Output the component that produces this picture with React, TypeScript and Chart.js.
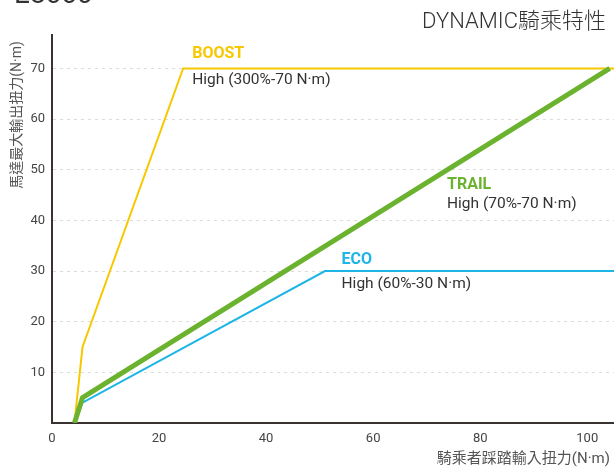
import React, { useEffect, useRef } from "react";
import { Chart, registerables } from "chart.js";

Chart.register(...registerables);

const boostX = [4.2, 5.7, 24.5, 105];
const boostY = [0, 15, 70, 70];
const trailX = [4.2, 5.7, 104.2];
const trailY = [0, 5, 70];
const ecoX = [4.2, 5.7, 51, 105];
const ecoY = [0, 4, 30, 30];
const xTicks = [0, 20, 40, 60, 80, 100];
const yTicks = [10, 20, 30, 40, 50, 60, 70];

const TITLE = "DYNAMIC騎乘特性";
const TOP_CUT = "E8000";
const Y_TITLE = "馬達最大輸出扭力(N·m)";
const X_TITLE = "騎乘者踩踏輸入扭力(N·m)";
const labels = [
  { name: "BOOST", desc: "High (300%-70 N·m)", x: 26.2, yName: 54, yDesc: 80, color: "#f7c800" },
  { name: "TRAIL", desc: "High (70%-70 N·m)", x: 73.8, yName: 185, yDesc: 204, color: "#6bb32e" },
  { name: "ECO", desc: "High (60%-30 N·m)", x: 54.1, yName: 260, yDesc: 284, color: "#1db4e6" },
];

const FONT = "Roboto, 'Noto Sans CJK TC', sans-serif";

const toPts = (xs: number[], ys: number[]) => xs.map((x, i) => ({ x, y: ys[i] }));

export default function App() {
  const ref = useRef<HTMLCanvasElement | null>(null);
  useEffect(() => {
    if (!ref.current) return;
    const deco = {
      id: "deco",
      afterDraw(chart: any) {
        const ctx = chart.ctx;
        const xs = chart.scales.x;
        ctx.save();
        ctx.fillStyle = "#333";
        ctx.font = `28px ${FONT}`;
        ctx.textAlign = "left";
        ctx.textBaseline = "alphabetic";
        ctx.fillText(TOP_CUT, 14, 3);
        ctx.font = `300 22px ${FONT}`;
        ctx.textAlign = "right";
        ctx.textBaseline = "middle";
        ctx.fillStyle = "#333";
        ctx.fillText(TITLE, 606, 22);
        ctx.font = `15px ${FONT}`;
        ctx.fillStyle = "#555";
        ctx.fillText(X_TITLE, 610, 459);
        ctx.save();
        ctx.translate(17, 115);
        ctx.rotate(-Math.PI / 2);
        ctx.textAlign = "center";
        ctx.font = `14px ${FONT}`;
        ctx.fillText(Y_TITLE, 0, 0);
        ctx.restore();
        ctx.textAlign = "left";
        for (const l of labels) {
          const px = xs.getPixelForValue(l.x);
          ctx.font = `bold 16px ${FONT}`;
          ctx.fillStyle = l.color;
          ctx.fillText(l.name, px, l.yName);
          ctx.font = `15.5px ${FONT}`;
          ctx.fillStyle = "#333";
          ctx.fillText(l.desc, px, l.yDesc);
        }
        ctx.restore();
      },
    };
    const chart = new Chart(ref.current, {
      type: "line",
      data: {
        datasets: [
          { label: "BOOST", data: toPts(boostX, boostY), borderColor: "#f7c800", borderWidth: 2, pointRadius: 0, tension: 0, order: 2 },
          { label: "ECO", data: toPts(ecoX, ecoY), borderColor: "#1db4e6", borderWidth: 2, pointRadius: 0, tension: 0, order: 1 },
          { label: "TRAIL", data: toPts(trailX, trailY), borderColor: "#6bb32e", borderWidth: 5, pointRadius: 0, tension: 0, order: 0 },
        ],
      },
      plugins: [deco],
      options: {
        animation: false,
        responsive: false,
        maintainAspectRatio: false,
        layout: { padding: { top: 35, right: 0, left: 0, bottom: 0 } },
        plugins: { legend: { display: false }, tooltip: { enabled: false }, title: { display: false } },
        scales: {
          x: {
            type: "linear",
            min: 0,
            max: 105,
            afterFit: (s: any) => { s.height = 44; },
            afterBuildTicks: (s: any) => { s.ticks = xTicks.map((v) => ({ value: v })); },
            grid: { display: false, drawTicks: false },
            border: { display: true, color: "#3a3230", width: 2 },
            ticks: { color: "#444", font: { family: FONT, size: 13 }, padding: 8, maxRotation: 0 },
          },
          y: {
            type: "linear",
            min: 0,
            max: 76.6,
            afterFit: (s: any) => { s.width = 52; },
            afterBuildTicks: (s: any) => { s.ticks = yTicks.map((v) => ({ value: v })); },
            grid: { color: "#dcdcdc", lineWidth: 1, drawTicks: false },
            border: { display: true, color: "#3a3230", width: 2, dash: [3, 4] },
            ticks: { color: "#444", font: { family: FONT, size: 13 }, padding: 7 },
          },
        },
      },
    });
    return () => chart.destroy();
  }, []);
  return (
    <div style={{ position: "fixed", left: 0, top: 0, width: 614, height: 467, background: "#fff" }}>
      <canvas ref={ref} width={614} height={467} style={{ width: 614, height: 467 }} />
    </div>
  );
}
